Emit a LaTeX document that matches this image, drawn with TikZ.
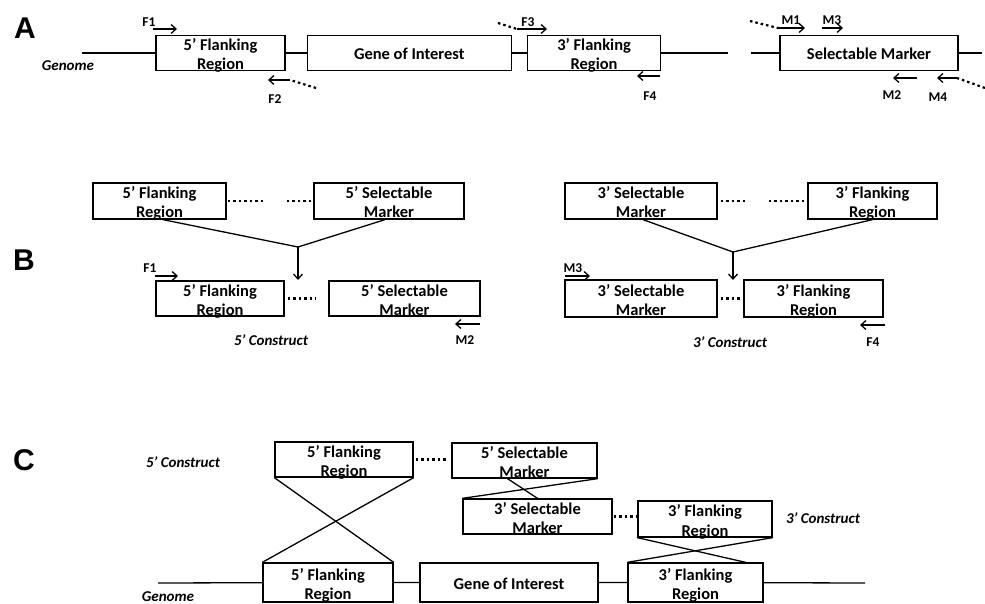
\documentclass[tikz,border=0pt]{standalone}
\usepackage{fontspec}
\setmainfont{Carlito}
\newfontfamily\letterfont{Liberation Sans}
\usetikzlibrary{arrows.meta,positioning}

\begin{document}
\begin{tikzpicture}[x=1pt, y=-1pt,
region/.style={rectangle, draw, line width=1.3pt, minimum height=35pt, inner sep=0pt, align=center, font=\bfseries\fontsize{16.5}{19.5}\selectfont, text height=34pt, text depth=0pt},
oneline/.style={text height=14pt, text depth=0pt},
panel/.style={font=\letterfont\bfseries\fontsize{30}{30}\selectfont, inner sep=0pt},
primer/.style={font=\bfseries\fontsize{13.5}{13.5}\selectfont, inner sep=0pt},
tag/.style={font=\bfseries\itshape\fontsize{15}{15}\selectfont, inner sep=0pt},
arrow/.style={-{Straight Barb[length=5pt,width=9pt]}, line width=1.3pt},
strand/.style={line width=1.3pt},
gap/.style={line width=2.2pt, dash pattern=on 2.5pt off 3pt}
]
\useasboundingbox (0,0) rectangle (985,604);

% Panel A
\node[panel] (lblA) at (25,28) {A};
\node[region, minimum width=129pt] (a_flank5) at (220.5,53) {5’ Flanking\\Region};
\node[region, oneline, minimum width=204pt, right=21pt of a_flank5] (a_goi) {Gene of Interest};
\node[region, minimum width=133pt, right=15pt of a_goi] (a_flank3) {3’ Flanking\\Region};
\node[region, oneline, minimum width=178pt] (a_marker) at (869,53) {Selectable Marker};
\node[tag] (a_genome) at (68,66) {Genome};

\coordinate (a_g0) at (82,53);
\coordinate (a_g1) at (728,53);
\coordinate (a_m0) at (751,53);
\coordinate (a_m1) at (982,53);
\draw[strand] (a_g0) -- (a_flank5) (a_flank5) -- (a_goi) (a_goi) -- (a_flank3) (a_flank3) -- (a_g1);
\draw[strand] (a_m0) -- (a_marker) (a_marker) -- (a_m1);

% Primers on genome
\node[primer] (a_f1) at (149,22) {F1};
\draw[arrow] ([shift={(4,7)}]a_f1.center) -- ++(24,0);
\node[primer] (a_f2) at (275,99) {F2};
\draw[arrow] ([shift={(15,-19)}]a_f2.center) -- ++(-22,0);
\draw[gap] ([shift={(41,-11)}]a_f2.center) -- ([shift={(15,-19)}]a_f2.center);
\node[primer] (a_f3) at (528,22) {F3};
\draw[gap] ([shift={(-30,1)}]a_f3.center) -- ([shift={(-11,7)}]a_f3.center);
\draw[arrow] ([shift={(-11,7)}]a_f3.center) -- ++(30,0);
\node[primer] (a_f4) at (650,96) {F4};
\draw[arrow] ([shift={(10,-20)}]a_f4.center) -- ++(-23,0);

% Primers on marker
\node[primer] (a_m1l) at (791,20) {M1};
\draw[gap] ([shift={(-41,1)}]a_m1l.center) -- ([shift={(-13,8)}]a_m1l.center);
\draw[arrow] ([shift={(-13,8)}]a_m1l.center) -- ++(27,0);
\node[primer] (a_m3l) at (832,20) {M3};
\draw[arrow] ([shift={(-10,8)}]a_m3l.center) -- ++(21,0);
\node[primer] (a_m2l) at (892,95) {M2};
\draw[arrow] ([shift={(25,-17)}]a_m2l.center) -- ++(-24,0);
\node[primer] (a_m4l) at (938,97) {M4};
\draw[arrow] ([shift={(19,-19)}]a_m4l.center) -- ++(-20,0);
\draw[gap] ([shift={(47,-9)}]a_m4l.center) -- ([shift={(19,-19)}]a_m4l.center);

% Panel B, 5' construct
\node[panel] (lblB) at (24,260) {B};
\node[region, minimum width=133pt, minimum height=36pt] (b_flank5) at (159.5,201) {5’ Flanking\\Region};
\node[region, minimum width=150pt, minimum height=36pt] (b_marker5) at (389,201) {5’ Selectable\\Marker};
\draw[gap] ([xshift=1pt]b_flank5.east) -- ++(38,0);
\draw[gap] ([xshift=-2pt]b_marker5.west) -- ++(-27,0);
\coordinate (b_join5) at (298,247);
\draw[strand] ([xshift=3.5pt]b_flank5.south) -- (b_join5) -- ([xshift=-4pt]b_marker5.south);
\draw[arrow] (b_join5) -- ++(0,33);

\node[region, minimum width=128pt] (b_cflank5) at (220,298.5) {5’ Flanking\\Region};
\node[region, minimum width=151pt] (b_cmarker5) at (404.5,298.5) {5’ Selectable\\Marker};
\draw[gap] ([xshift=3pt]b_cflank5.east) -- ++(28,0);
\node[primer] (b_f1) at (150,268) {F1};
\draw[arrow] ([shift={(5,8)}]b_f1.center) -- ++(23,0);
\node[primer] (b_m2) at (465,340) {M2};
\draw[arrow] ([shift={(15,-16)}]b_m2.center) -- ++(-25,0);
\node[tag] (b_tag5) at (271,340) {5’ Construct};

% Panel B, 3' construct
\node[region, minimum width=152pt, minimum height=36pt] (b_marker3) at (641,201) {3’ Selectable\\Marker};
\node[region, minimum width=129pt, minimum height=36pt] (b_flank3) at (872.5,201) {3’ Flanking\\Region};
\draw[gap] ([xshift=3pt]b_marker3.east) -- ++(27,0);
\draw[gap] ([xshift=-3pt]b_flank3.west) -- ++(-36,0);
\coordinate (b_join3) at (733,252);
\draw[strand] ([xshift=2pt]b_marker3.south) -- (b_join3) -- (b_flank3.south);
\draw[arrow] (b_join3) -- ++(0,28);

\node[region, minimum width=152pt, minimum height=37pt] (b_cmarker3) at (641,298.5) {3’ Selectable\\Marker};
\node[region, minimum width=139pt, minimum height=37pt] (b_cflank3) at (813.5,298.5) {3’ Flanking\\Region};
\draw[gap] ([xshift=3pt]b_cmarker3.east) -- ++(24,0);
\node[primer] (b_m3) at (573,268) {M3};
\draw[arrow] ([shift={(-8,8)}]b_m3.center) -- ++(25,0);
\node[primer] (b_f4) at (873,342) {F4};
\draw[arrow] ([shift={(12,-17)}]b_f4.center) -- ++(-25,0);
\node[tag] (b_tag3) at (730,342) {3’ Construct};

% Panel C, constructs
\node[panel] (lblC) at (24,460) {C};
\node[tag] (c_tag5) at (183,462) {5’ Construct};
\node[region, minimum width=138pt] (c_flank5) at (344,459.5) {5’ Flanking\\Region};
\node[region, minimum width=145pt] (c_marker5) at (524.5,460.5) {5’ Selectable\\Marker};
\draw[gap] ([xshift=2pt]c_flank5.east) -- ++(30,0);
\node[region, minimum width=149pt] (c_marker3) at (537.5,516.5) {3’ Selectable\\Marker};
\node[region, minimum width=134pt, minimum height=36pt] (c_flank3) at (705,519) {3’ Flanking\\Region};
\draw[gap] ([xshift=1pt]c_marker3.east) -- ++(23,0);
\node[tag] (c_tag3) at (823,518) {3’ Construct};

% Panel C, genome
\node[region, minimum width=130pt, minimum height=39pt] (c_gflank5) at (328,582.5) {5’ Flanking\\Region};
\node[region, oneline, minimum width=178pt, minimum height=39pt] (c_goi) at (509,582.5) {Gene of Interest};
\node[region, minimum width=135pt, minimum height=39pt] (c_gflank3) at (695.5,582.5) {3’ Flanking\\Region};
\node[tag] (c_genome) at (168,597) {Genome};
\coordinate (c_g0) at (158,583);
\coordinate (c_g1) at (865,583);
\draw[strand] (c_g0) -- (c_gflank5) (c_gflank5) -- (c_goi) (c_goi) -- (c_gflank3) (c_gflank3) -- (c_g1);

% Crossovers
\draw[strand] (c_flank5.south west) -- (c_gflank5.north east);
\draw[strand] (c_flank5.south east) -- (c_gflank5.north west);
\draw[strand] ([xshift=-17pt]c_marker5.south) -- (c_marker3.north);
\draw[strand] (c_marker5.south east) -- (c_marker3.north west);
\draw[strand] (c_flank3.south west) -- ([xshift=-18pt]c_gflank3.north east);
\draw[strand] (c_flank3.south east) -- (c_gflank3.north west);

\end{tikzpicture}
\end{document}
